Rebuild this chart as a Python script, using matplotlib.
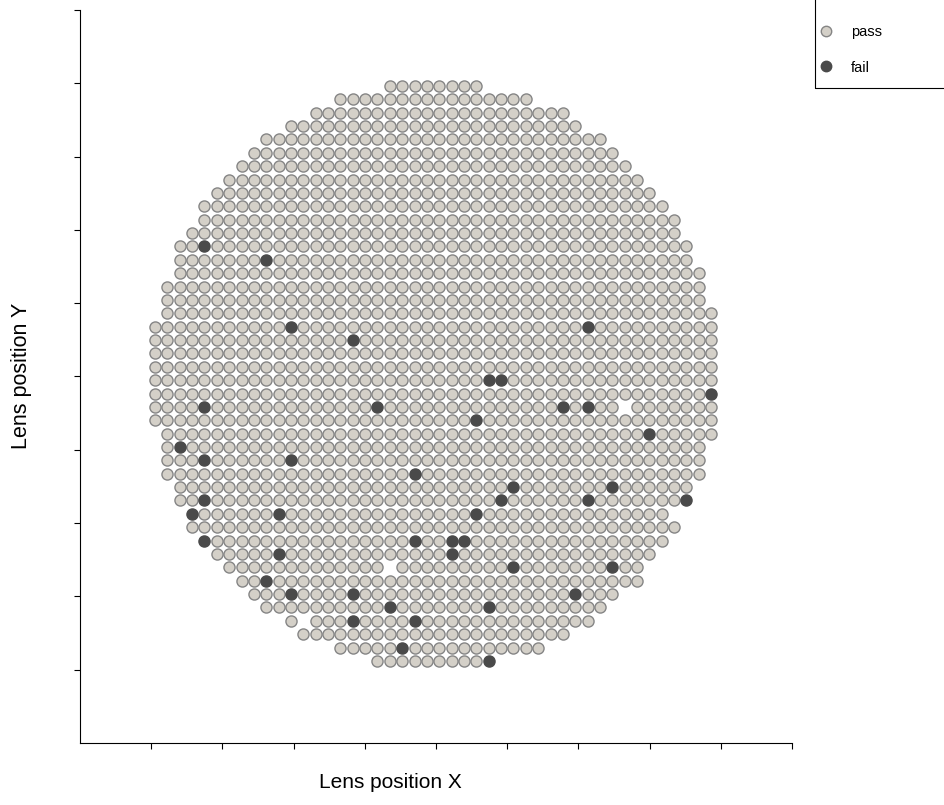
import matplotlib
matplotlib.use("Agg")
import matplotlib.pyplot as plt
from matplotlib.patches import Rectangle
from matplotlib.lines import Line2D

# ---- data (grid rows top->bottom, columns left->right) ----
row_first = [19, 15, 13, 11, 9, 8, 7, 6, 5, 4, 4, 3, 2, 2, 2, 1, 1, 1, 0, 0, 0, 0,
             0, 0, 0, 0, 1, 1, 1, 1, 2, 2, 3, 3, 4, 5, 6, 7, 8, 9, 11, 12, 15, 18]
row_last = [26, 30, 33, 34, 36, 37, 38, 39, 40, 41, 42, 42, 43, 43, 44, 44, 44, 45, 45, 45, 45, 45,
            45, 45, 45, 45, 45, 44, 44, 44, 43, 43, 41, 42, 41, 40, 39, 39, 37, 36, 35, 33, 31, 27]
missing_cells = [(38, 24), (19, 36), (12, 40)]
fail_cells = [(4, 12), (9, 13), (11, 18), (35, 18), (16, 19), (27, 22), (28, 22), (45, 23),
              (4, 24), (18, 24), (33, 24), (35, 24), (26, 25), (40, 26), (2, 27), (4, 28),
              (11, 28), (21, 29), (29, 30), (37, 30), (4, 31), (28, 31), (35, 31), (43, 31),
              (3, 32), (10, 32), (26, 32), (4, 34), (21, 34), (24, 34), (25, 34), (10, 35),
              (24, 35), (29, 36), (37, 36), (9, 37), (11, 38), (16, 38), (34, 38), (19, 39),
              (27, 39), (16, 40), (21, 40), (20, 42), (27, 43)]
legend_labels = ["pass", "fail"]
x_label = "Lens position X"
y_label = "Lens position Y"

# ---- layout constants (axis units) ----
X0, XP = 1.0534, 0.17360
Y0, YP = 8.963, 0.1824

W, H = 944, 805
fig = plt.figure(figsize=(W / 100, H / 100), dpi=100)
plt.rcParams['font.family'] = ['Liberation Sans', 'DejaVu Sans']
ax = fig.add_axes([80 / W, 1 - 743 / H, (792 - 80) / W, (743 - 10) / H])

fail_set = set(fail_cells)
miss_set = set(missing_cells)
px, py, fx, fy = [], [], [], []
for r, (a, b) in enumerate(zip(row_first, row_last)):
    for c in range(a, b + 1):
        if (c, r) in miss_set:
            continue
        x = X0 + c * XP
        y = Y0 - r * YP
        if (c, r) in fail_set:
            fx.append(x); fy.append(y)
        else:
            px.append(x); py.append(y)

pass_face, pass_edge = "#d4d0c8", "#858585"
fail_face, fail_edge = "#4a4a4a", "#4a4a4a"
ax.scatter(px, py, s=64, facecolor=pass_face, edgecolor=pass_edge, linewidths=1.0, zorder=2)
ax.scatter(fx, fy, s=64, facecolor=fail_face, edgecolor=fail_edge, linewidths=1.0, zorder=3)

ax.set_xlim(0, 10)
ax.set_ylim(0, 10)
ax.set_xticks(range(1, 11))
ax.set_yticks(range(1, 11))
ax.set_xticklabels([])
ax.set_yticklabels([])
ax.tick_params(direction="out", length=4.5, width=0.8, colors="black")
for s in ["top", "right"]:
    ax.spines[s].set_visible(False)
for s in ["left", "bottom"]:
    ax.spines[s].set_linewidth(0.8)

fig.text(390 / W, 1 - 782 / H, x_label, ha="center", va="center", fontsize=15)
fig.text(22 / W, 1 - 376 / H, y_label, ha="center", va="center", rotation=90, fontsize=15.5)

# legend
handles = [Line2D([], [], linestyle="none", marker="o", markersize=7.5,
                  markerfacecolor=pass_face, markeredgecolor=pass_edge, markeredgewidth=1.0),
           Line2D([], [], linestyle="none", marker="o", markersize=7.5,
                  markerfacecolor=fail_face, markeredgecolor=fail_edge, markeredgewidth=1.0)]
fig.legend(handles, legend_labels, loc="upper left",
           bbox_to_anchor=(814 / W, 1 - 21 / H), frameon=False, fontsize=10.5,
           handlelength=1.0, handletextpad=1.25, labelspacing=1.45, borderpad=0.3,
           borderaxespad=0)
fig.patches.append(Rectangle((815 / W, 1 - 88 / H), 200 / W, 90 / H,
                             transform=fig.transFigure, fill=False,
                             edgecolor="black", linewidth=0.8))

fig.savefig("out.png", dpi=100, facecolor="white")
